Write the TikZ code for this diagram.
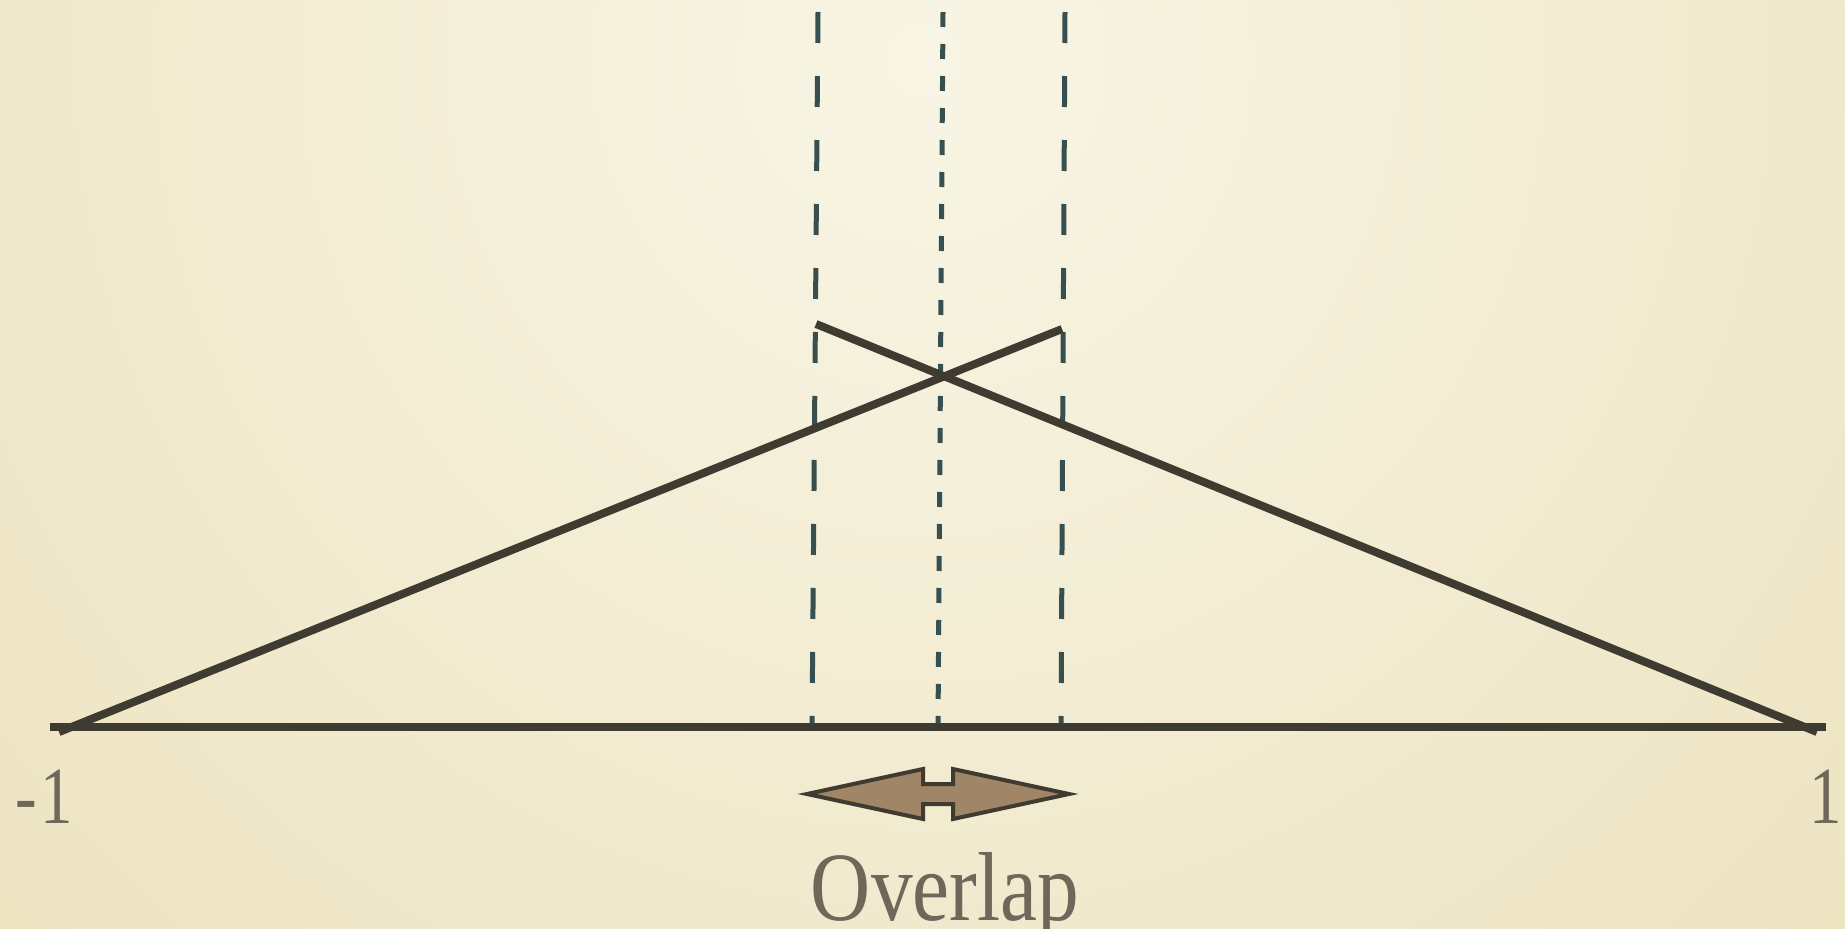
\documentclass[tikz,border=0pt]{standalone}
\usepackage{fontspec}
\setmainfont{Liberation Serif}
\definecolor{bgin}{HTML}{F8F5E5}
\definecolor{bgout}{HTML}{EDE4C2}
\definecolor{solidc}{HTML}{3F3B30}
\definecolor{dashc}{HTML}{37504F}
\definecolor{arrfill}{HTML}{A08566}
\definecolor{txtc}{HTML}{6F675A}
\tikzset{
  solidline/.style={draw=solidc, line width=8pt},
  guide/.style={draw=dashc, line width=5pt, dash pattern=on 31pt off 33pt},
  guidefine/.style={draw=dashc, line width=5pt, dash pattern=on 15pt off 17pt},
  arrowshape/.style={draw=solidc, fill=arrfill, line width=4pt, line join=miter},
  bigtext/.style={text=txtc, font=\fontsize{98}{104}\selectfont, xscale=0.85, inner sep=0pt},
  numtext/.style={text=txtc, font=\fontsize{81}{90}\selectfont, xscale=0.8, inner sep=0pt}
}
\begin{document}
\begin{tikzpicture}[x=1pt,y=-1pt]
\useasboundingbox (0,0) rectangle (1845,929);
\begin{scope}
\clip (0,0) rectangle (1845,929);
\fill[bgout] (0,0) rectangle (1845,929);
\shade[inner color=bgin, outer color=bgout] (922,60) circle (1250);
\end{scope}
% guide lines
\coordinate (gLt) at (818,12); \coordinate (gLb) at (812,727);
\coordinate (gMt) at (943,12); \coordinate (gMb) at (938,727);
\coordinate (gRt) at (1065,12); \coordinate (gRb) at (1061,727);
\draw[guide] (gLt) -- (gLb);
\draw[guidefine] (gMt) -- (gMb);
\draw[guide] (gRt) -- (gRb);
% triangle lines
\coordinate (bl) at (50,727); \coordinate (br) at (1826,727);
\coordinate (aL) at (59,732); \coordinate (aR) at (1062,329);
\coordinate (cL) at (816,324); \coordinate (cR) at (1817,732);
\draw[solidline] (bl) -- (br);
\draw[solidline] (aL) -- (aR);
\draw[solidline] (cL) -- (cR);
% overlap arrow
\draw[arrowshape] (807,794) -- (923,769) -- (923,784) -- (953,784) -- (953,769)
  -- (1069,794) -- (953,819) -- (953,804) -- (923,804) -- (923,819) -- cycle;
% labels
\node[bigtext, anchor=base] (ov) at (945,920) {Overlap};
\node[numtext, anchor=base] (mone) at (44,823) {-\kern5pt1};
\node[numtext, anchor=base] (one) at (1826,823) {1};
\end{tikzpicture}
\end{document}
